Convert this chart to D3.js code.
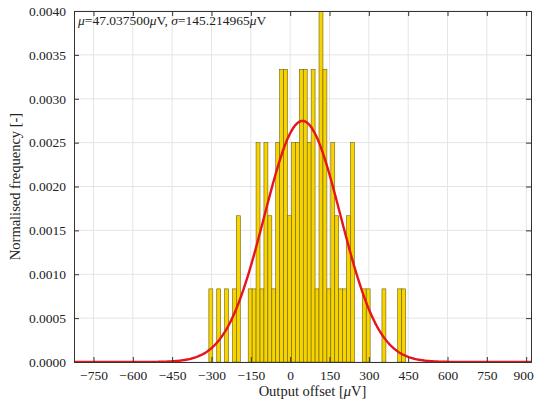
<!DOCTYPE html>
<html>
<head>
<meta charset="utf-8">
<script src="https://cdn.jsdelivr.net/npm/d3@7"></script>
<style>
  body { margin: 0; background: #fff; }
  text { font-family: "Liberation Serif", "DejaVu Serif", serif; fill: #222; }
</style>
</head>
<body>
<svg id="chart" width="535" height="401"></svg>
<script>
// histogram: 50 bins of 15 uV starting at -310 uV, 80 samples
const binStart = -310,
    binWidth = 15,
    sampleCount = 80;
const counts = [1, 0, 1, 0, 1, 0, 1, 2, 0, 0,
                1, 1, 3, 1, 3, 2, 1, 3, 4, 4,
                2, 3, 3, 4, 4, 3, 4, 1, 5, 4,
                1, 3, 2, 1, 1, 2, 3, 0, 0, 1,
                1, 0, 0, 0, 1, 0, 0, 0, 1, 1];

// fitted normal distribution
const mu = 47.0375,
    sigma = 145.214965;

const xTicks = [-750, -600, -450, -300, -150, 0, 150, 300, 450, 600, 750, 900];
const yTicks = [0, 0.0005, 0.001, 0.0015, 0.002, 0.0025, 0.003, 0.0035, 0.004];

const svg = d3.select("#chart"),
    margin = {top: 11, right: 4, bottom: 39, left: 74},
    width = +svg.attr("width") - margin.left - margin.right,
    height = +svg.attr("height") - margin.top - margin.bottom;

const x = d3.scaleLinear()
    .domain([mu - 6 * sigma, mu + 6 * sigma])
    .range([0, width]);

const y = d3.scaleLinear()
    .domain([0, 0.004])
    .range([height, 0]);

const g = svg.append("g")
    .attr("transform", "translate(" + margin.left + "," + margin.top + ")");

svg.append("defs").append("clipPath")
    .attr("id", "plot-clip")
    .append("rect")
    .attr("width", width)
    .attr("height", height);

// grid
g.append("g")
    .selectAll("line")
    .data(xTicks)
    .enter().append("line")
    .attr("x1", d => x(d)).attr("x2", d => x(d))
    .attr("y1", 0).attr("y2", height)
    .attr("stroke", "#e4e4e4");

g.append("g")
    .selectAll("line")
    .data(yTicks)
    .enter().append("line")
    .attr("x1", 0).attr("x2", width)
    .attr("y1", d => y(d)).attr("y2", d => y(d))
    .attr("stroke", "#e4e4e4");

const bins = counts.map((c, i) => ({
    x0: binStart + i * binWidth,
    x1: binStart + (i + 1) * binWidth,
    density: c / (sampleCount * binWidth)
})).filter(d => d.density > 0);

const plot = g.append("g").attr("clip-path", "url(#plot-clip)");

plot.selectAll(".bar")
    .data(bins)
    .enter().append("rect")
    .attr("class", "bar")
    .attr("x", d => x(d.x0))
    .attr("width", d => x(d.x1) - x(d.x0))
    .attr("y", d => y(d.density))
    .attr("height", d => y(0) - y(d.density))
    .attr("fill", "#f7d400")
    .attr("stroke", "#6b5f10")
    .attr("stroke-width", 0.6);

const curve = d3.range(0, 401).map(i => {
    const v = x.domain()[0] + i / 400 * (x.domain()[1] - x.domain()[0]);
    return [v, Math.exp(-0.5 * Math.pow((v - mu) / sigma, 2)) / (sigma * Math.sqrt(2 * Math.PI))];
});

plot.append("path")
    .datum(curve)
    .attr("fill", "none")
    .attr("stroke", "#e8141c")
    .attr("stroke-width", 2.4)
    .attr("d", d3.line().x(d => x(d[0])).y(d => y(d[1])));

// axes, ticks pointing inwards on all four sides
const fmtY = d3.format(".4f");

g.append("g")
    .attr("transform", "translate(0," + height + ")")
    .call(d3.axisBottom(x).tickValues(xTicks).tickSize(-5).tickPadding(8))
    .call(a => a.selectAll("text").style("font-size", "13.5px"))
    .call(a => a.selectAll(".tick:last-of-type text").attr("dx", "-3"));

g.append("g")
    .call(d3.axisTop(x).tickValues(xTicks).tickSize(-5).tickFormat(""));

g.append("g")
    .call(d3.axisLeft(y).tickValues(yTicks).tickSize(-5).tickPadding(8).tickFormat(fmtY))
    .call(a => a.selectAll("text").style("font-size", "13.5px"));

g.append("g")
    .attr("transform", "translate(" + width + ",0)")
    .call(d3.axisRight(y).tickValues(yTicks).tickSize(-5).tickFormat(""));

g.selectAll(".domain").attr("stroke", "#333");
g.selectAll(".tick line").attr("stroke", "#333");

// labels
svg.append("text")
    .attr("x", margin.left + width / 2 + 10)
    .attr("y", 396)
    .attr("text-anchor", "middle")
    .style("font-size", "14.5px")
    .html("Output offset [<tspan font-style='italic'>μ</tspan>V]");

svg.append("text")
    .attr("transform", "translate(20," + (margin.top + height / 2) + ") rotate(-90)")
    .attr("text-anchor", "middle")
    .style("font-size", "14.5px")
    .text("Normalised frequency [-]");

g.append("text")
    .attr("x", 4)
    .attr("y", 14)
    .style("font-size", "13.5px")
    .html("<tspan font-style='italic'>μ</tspan>=47.037500<tspan font-style='italic'>μ</tspan>V, " +
          "<tspan font-style='italic'>σ</tspan>=145.214965<tspan font-style='italic'>μ</tspan>V");
</script>
</body>
</html>
